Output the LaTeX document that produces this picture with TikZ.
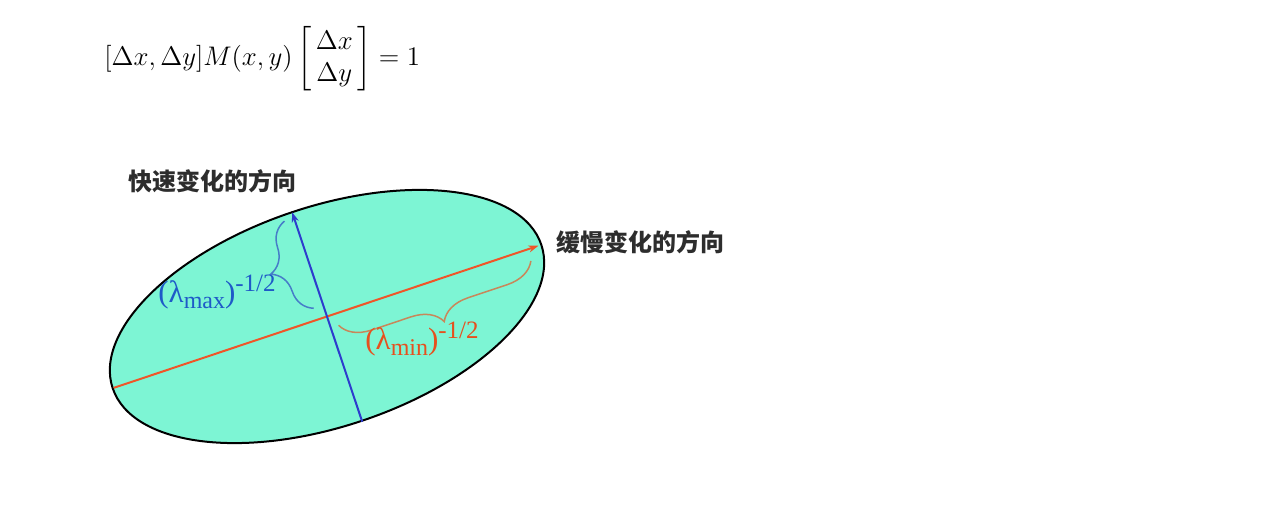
\documentclass[tikz,border=0pt]{standalone}
\usepackage{amsmath}
\usepackage{fontspec}
\newfontfamily\cjk{Noto Sans CJK SC}
\newfontfamily\timesf{Liberation Serif}
\usetikzlibrary{decorations.pathreplacing,arrows.meta}
\definecolor{fillc}{RGB}{125,245,212}
\definecolor{orangeax}{RGB}{240,85,40}
\definecolor{blueax}{RGB}{45,60,205}
\definecolor{bluebr}{RGB}{70,125,200}
\definecolor{orangebr}{RGB}{200,135,90}
\definecolor{bluetxt}{RGB}{30,90,200}
\definecolor{orangetxt}{RGB}{230,80,30}
\definecolor{cjkc}{RGB}{45,45,45}
\tikzset{
  ellipsebody/.style={line width=1pt, draw=black, fill=fillc},
  orangeaxis/.style={line width=1pt, draw=orangeax, -{Stealth[length=5pt,width=3.5pt]}},
  blueaxis/.style={line width=1pt, draw=blueax, -{Stealth[length=5pt,width=3.5pt]}},
  bracebase/.style={decorate, decoration={brace,amplitude=15pt}, line width=0.75pt},
  cjklabel/.style={anchor=west, inner sep=0, text=cjkc, font=\cjk\bfseries\fontsize{12}{12}\selectfont},
  lamlabel/.style={anchor=base west, inner sep=0, font=\timesf\fontsize{15.5}{16}\selectfont}
}
\newcommand{\lamsub}[1]{\raisebox{-3pt}{\fontsize{12}{12}\selectfont #1}}
\newcommand{\lamsup}[1]{\raisebox{5.5pt}{\fontsize{12.5}{12}\selectfont #1}}
\begin{document}
\begin{tikzpicture}[x=0.5pt,y=0.5pt]
\useasboundingbox (0,0) rectangle (1277,513);
\fill[white] (0,0) rectangle (1277,513);
\node[anchor=west, inner sep=0] (eq) at (104,454)
  {\scalebox{1.12}{\fontsize{12}{14.2}\selectfont\arraycolsep=2pt$[\Delta x,\Delta y]M(x,y)\left[\begin{array}{c}\Delta x\\ \Delta y\end{array}\right]=1$}};
\coordinate (C) at (327,196.5);
\begin{scope}[shift={(C)}, rotate=18.5]
  \draw[ellipsebody] (0,0) ellipse [x radius=113pt, y radius=55pt];
  \coordinate (oL) at (-225,0);
  \coordinate (oR) at (223,0);
  \coordinate (bB) at (0,-111);
  \coordinate (bT) at (0,110);
  \coordinate (b1) at (-10,12);
  \coordinate (b2) at (-10,104);
  \coordinate (o1) at (211,-12);
  \coordinate (o2) at (8,-12);
  \draw[orangeaxis] (oL) -- (oR);
  \draw[blueaxis] (bB) -- (bT);
  \draw[bracebase, draw=bluebr] (b1) -- (b2);
  \draw[bracebase, draw=orangebr] (o1) -- (o2);
\end{scope}
\node[lamlabel, text=bluetxt] (lmax) at (158,210) {(λ\lamsub{max})\lamsup{-1/2}};
\node[lamlabel, text=orangetxt] (lmin) at (365,163) {(λ\lamsub{min})\lamsup{-1/2}};
\node[cjklabel] (fast) at (128,332) {快速变化的方向};
\node[cjklabel] (slow) at (556,271) {缓慢变化的方向};
\end{tikzpicture}
\end{document}
